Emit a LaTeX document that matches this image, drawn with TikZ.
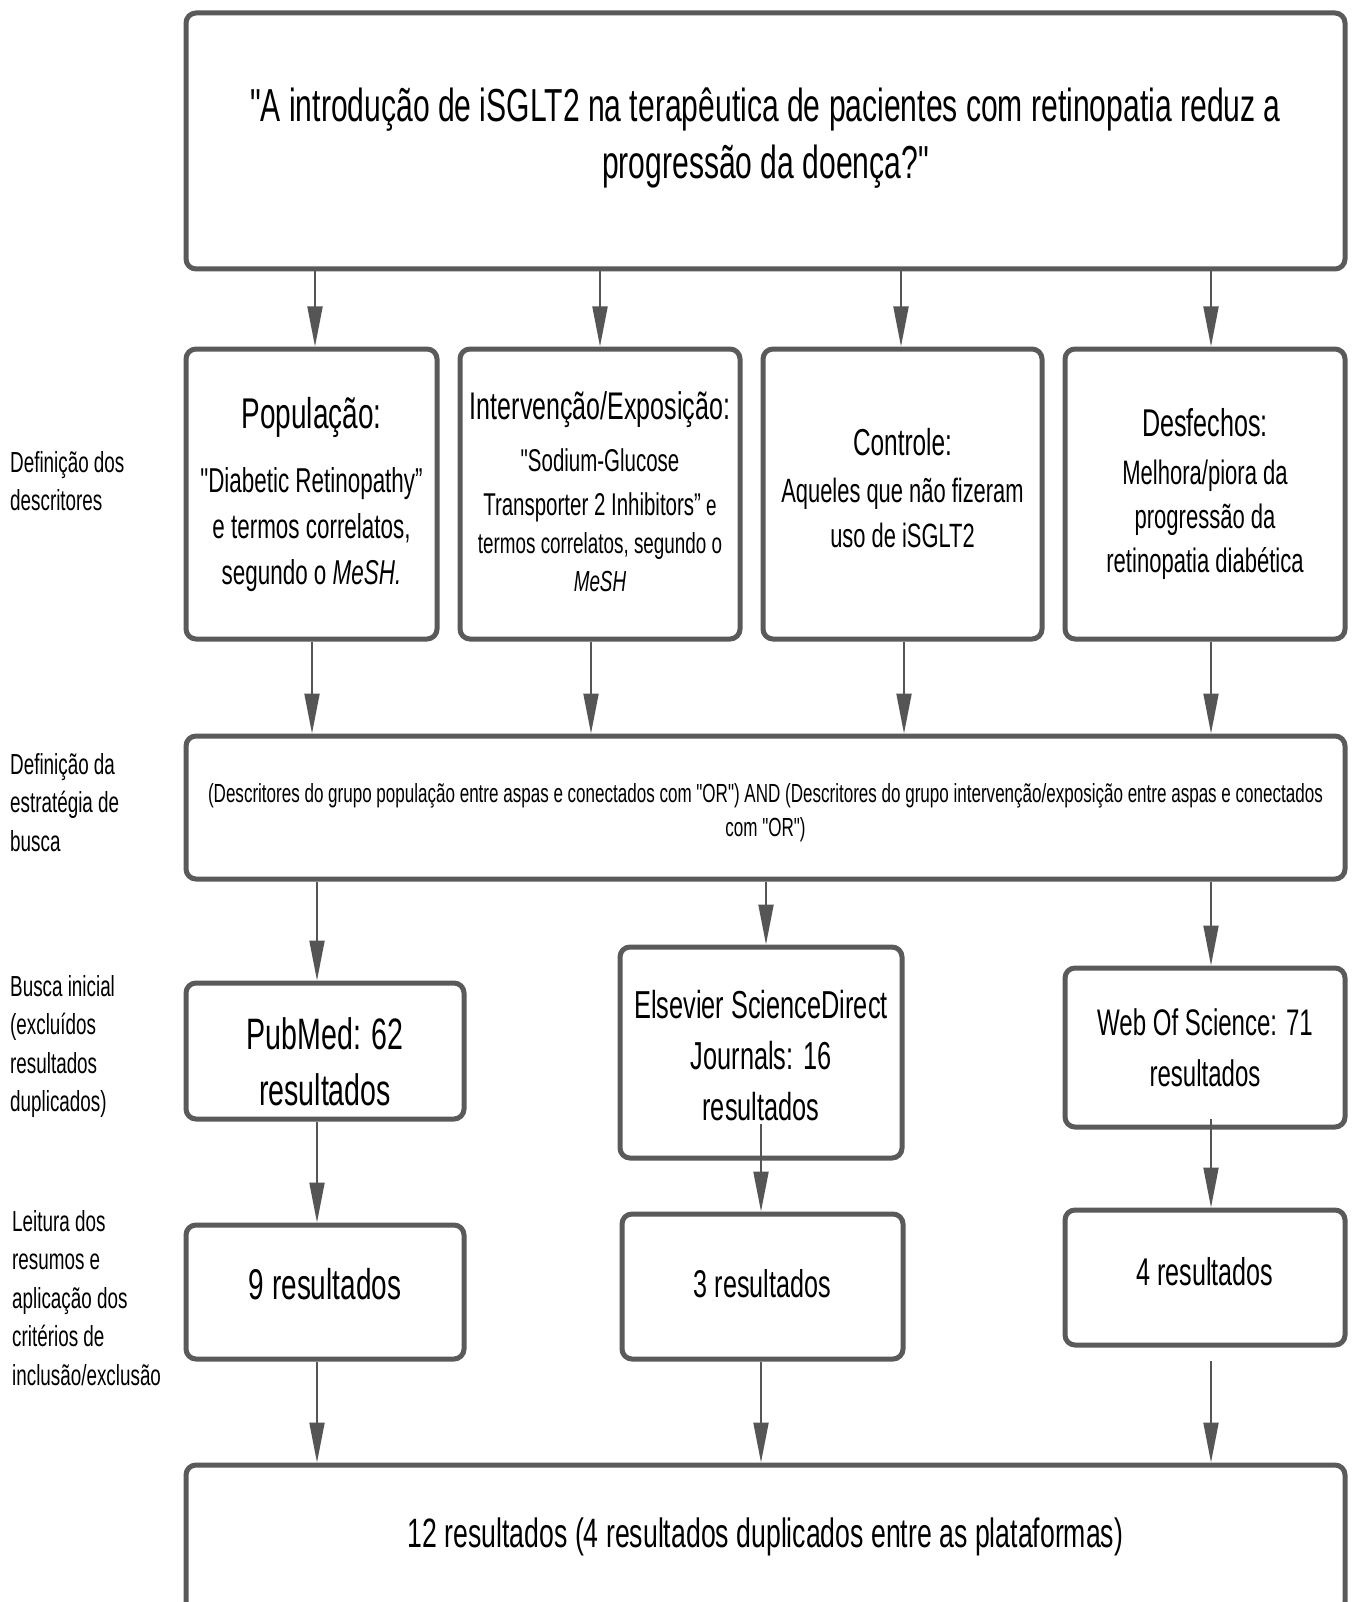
\documentclass[tikz,border=0pt]{standalone}
\usepackage{fontspec}
\setmainfont[FakeStretch=0.65]{Liberation Sans}
\newfontfamily\qfont[FakeStretch=0.65]{Liberation Sans}
\usetikzlibrary{arrows.meta,calc}
\definecolor{boxgray}{HTML}{5A5A5A}
\definecolor{arrgray}{HTML}{555555}
\newcommand{\dq}{{\qfont"}}
\begin{document}
\begin{tikzpicture}[x=1pt,y=-1pt,
  box/.style={draw=boxgray, line width=5pt, rounded corners=10pt, fill=white, align=center, inner sep=0pt},
  txt/.style={align=center, inner sep=0pt},
  arr/.style={draw=arrgray, line width=2pt, -{Triangle[length=40pt,width=15pt]}},
  lab/.style={anchor=north west, align=left, inner sep=0pt, font=\fontsize{29}{38.5}\selectfont}
]
\useasboundingbox (0,0) rectangle (1352,1602);
\fill[white] (0,0) rectangle (1352,1602);

% left labels
\node[lab] (l1) at (10,451) {Definição dos\\descritores};
\node[lab] (l2) at (10,753) {Definição da\\estratégia de\\busca};
\node[lab] (l3) at (10,975) {Busca inicial\\(excluídos\\resultados\\duplicados)};
\node[lab] (l4) at (12,1210) {Leitura dos\\resumos e\\aplicação dos\\critérios de\\inclusão/exclusão};

% boxes
\node[box, minimum width=1159pt, minimum height=256pt] (top) at (765.5,141) {};
\node[txt, font=\fontsize{46.3}{57}\selectfont] (topt) at (765.5,138)
  {\dq A introdução de iSGLT2 na terapêutica de pacientes com retinopatia reduz a\\progressão da doença?\dq};

\node[box, minimum width=251pt, minimum height=290pt, font=\fontsize{34.5}{46}\selectfont] (pop) at (311.5,494)
  {{\fontsize{43}{46}\selectfont População:}\\[18pt]\dq Diabetic Retinopathy”\\e termos correlatos,\\segundo o \textit{MeSH.}};

\node[box, minimum width=280pt, minimum height=290pt] (int) at (600,494) {};
\node[txt, font=\fontsize{31.5}{44}\selectfont] (intt) at (600,492)
  {{\fontsize{38.5}{44}\selectfont Intervenção/Exposição:}\\[8pt]\dq Sodium-Glucose\\Transporter 2 Inhibitors”{\fontsize{29}{40}\selectfont\ e}\\[-6pt]{\fontsize{29}{40}\selectfont termos correlatos, segundo o}\\[-6pt]{\fontsize{29}{40}\selectfont\textit{MeSH}}};

\node[box, minimum width=279pt, minimum height=290pt] (ctrl) at (902.5,494) {};
\node[txt, font=\fontsize{33.7}{45}\selectfont] (ctrlt) at (902.5,488)
  {{\fontsize{37.5}{45}\selectfont Controle:}\\[2pt]Aqueles que não fizeram\\uso de iSGLT2};

\node[box, minimum width=280pt, minimum height=290pt, font=\fontsize{33.9}{44}\selectfont] (desf) at (1205,494)
  {{\fontsize{38.7}{44}\selectfont Desfechos:}\\[4pt]Melhora/piora da\\progressão da\\retinopatia diabética};

\node[box, minimum width=1159pt, minimum height=143pt] (strat) at (765.5,807.5) {};
\node[txt, font=\fontsize{26.2}{34}\selectfont] (stratt) at (765.5,812.5)
  {(Descritores do grupo população entre aspas e conectados com \dq OR\dq) AND (Descritores do grupo intervenção/exposição entre aspas e conectados\\com \dq OR\dq)};

\node[box, minimum width=278pt, minimum height=136pt] (pub) at (325,1051) {};
\node[txt, font=\fontsize{44}{56}\selectfont] (pubt) at (325,1062) {PubMed: 62\\resultados};
\node[box, minimum width=282pt, minimum height=211pt] (els) at (761,1052.5) {};
\node[txt, font=\fontsize{39}{51}\selectfont] (elst) at (761,1056) {Elsevier ScienceDirect\\Journals: 16\\resultados};
\node[box, minimum width=280pt, minimum height=159pt, font=\fontsize{37}{51}\selectfont] (wos) at (1205,1047.5)
  {Web Of Science: 71\\resultados};

\node[box, minimum width=278pt, minimum height=134pt] (r9) at (325,1292) {};
\node[txt, font=\fontsize{43}{52}\selectfont] (r9t) at (325,1284) {9 resultados};
\node[box, minimum width=281pt, minimum height=145pt] (r3) at (762.5,1286.5) {};
\node[txt, font=\fontsize{38.7}{48}\selectfont] (r3t) at (762.5,1284) {3 resultados};
\node[box, minimum width=280pt, minimum height=135pt] (r4) at (1205,1277.5) {};
\node[txt, font=\fontsize{38.7}{48}\selectfont] (r4t) at (1205,1272) {4 resultados};

\node[box, minimum width=1159pt, minimum height=147pt] (fin) at (765.5,1538.5) {};
\node[txt, font=\fontsize{41}{52}\selectfont] (fint) at (765.5,1537)
  {12 resultados (4 resultados duplicados entre as plataformas)};

% helper x coordinates
\coordinate (a1) at (315,0);
\coordinate (a2) at (600,0);
\coordinate (a3) at (901,0);
\coordinate (a4) at (1211,0);
\coordinate (b1) at (312,0);
\coordinate (b2) at (591,0);
\coordinate (b3) at (904,0);
\coordinate (c1) at (317,0);
\coordinate (c2) at (766,0);
\coordinate (d2) at (761,0);
\coordinate (es) at (761,1124);
\coordinate (ws) at (1211,1119);
\coordinate (fs) at (1211,1361);

% arrows
\draw[arr] (top.south -| a1) -- (pop.north -| a1);
\draw[arr] (top.south -| a2) -- (int.north -| a2);
\draw[arr] (top.south -| a3) -- (ctrl.north -| a3);
\draw[arr] (top.south -| a4) -- (desf.north -| a4);

\draw[arr] (pop.south -| b1) -- (strat.north -| b1);
\draw[arr] (int.south -| b2) -- (strat.north -| b2);
\draw[arr] (ctrl.south -| b3) -- (strat.north -| b3);
\draw[arr] (desf.south -| a4) -- (strat.north -| a4);

\draw[arr] (strat.south -| c1) -- (pub.north -| c1);
\draw[arr] (strat.south -| c2) -- (els.north -| c2);
\draw[arr] (strat.south -| a4) -- (wos.north -| a4);

\draw[arr] (pub.south -| c1) -- (r9.north -| c1);
\draw[arr] (es) -- (r3.north -| es);
\draw[arr] (ws) -- (r4.north -| ws);

\draw[arr] (r9.south -| c1) -- (fin.north -| c1);
\draw[arr] (r3.south -| d2) -- (fin.north -| d2);
\draw[arr] (fs) -- (fin.north -| fs);
\end{tikzpicture}
\end{document}
